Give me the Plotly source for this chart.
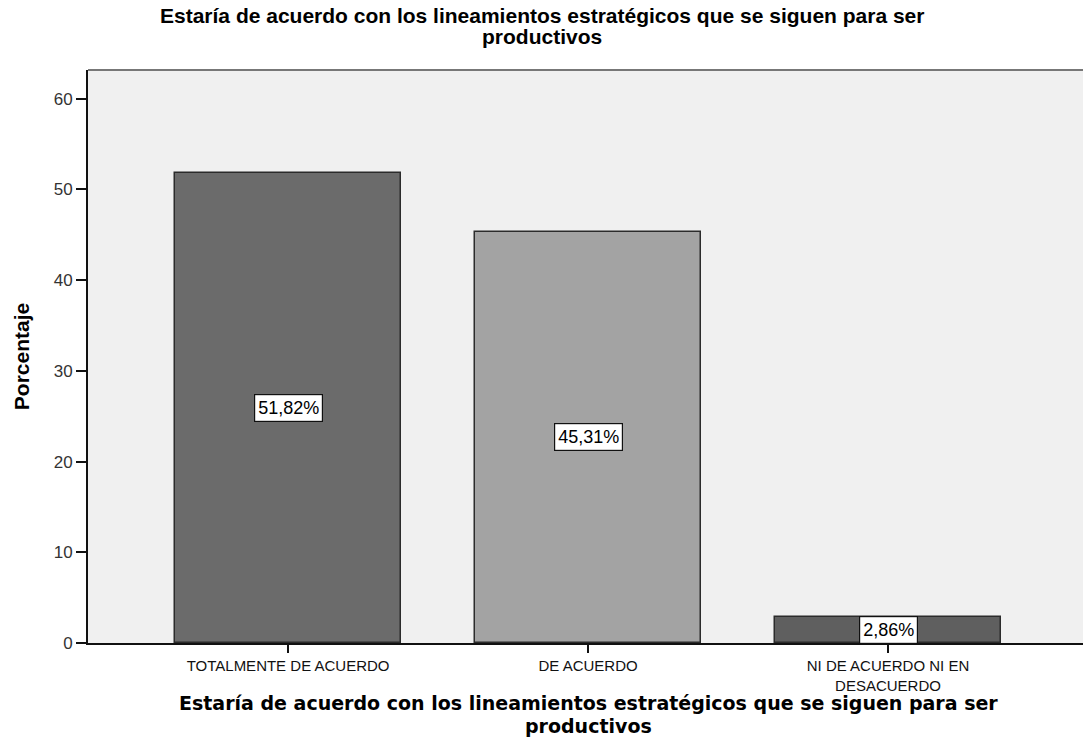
import plotly.graph_objects as go

categories = ["TOTALMENTE DE ACUERDO", "DE ACUERDO", "NI DE ACUERDO NI EN<br>DESACUERDO"]
values = [51.82, 45.31, 2.86]
value_labels = ["51,82%", "45,31%", "2,86%"]
bar_colors = ["#6b6b6b", "#a3a3a3", "#5f5f5f"]
y_ticks = [0, 10, 20, 30, 40, 50, 60]
title_line1 = "Estaría de acuerdo con los lineamientos estratégicos que se siguen para ser"
title_line2 = "productivos"
y_title = "Porcentaje"

x_pos = list(range(len(categories)))

fig = go.Figure()
fig.add_trace(go.Bar(
    x=x_pos, y=values, width=0.753,
    marker=dict(color=bar_colors, line=dict(color="#2b2b2b", width=1.5)),
    hoverinfo="skip",
))

for xi, v, lab in zip(x_pos, values, value_labels):
    fig.add_annotation(
        x=xi, y=v / 2, text=lab, showarrow=False,
        font=dict(family="Liberation Sans, Arial", size=18, color="#000"),
        bgcolor="white", bordercolor="#111", borderwidth=1.2, borderpad=3,
    )

# top title
fig.add_annotation(
    xref="paper", yref="paper", x=0.456, y=1, yshift=55, xanchor="center", yanchor="middle",
    text="<b>" + title_line1 + "</b>", showarrow=False,
    font=dict(family="Liberation Sans, Arial", size=21, color="#000"),
)
fig.add_annotation(
    xref="paper", yref="paper", x=0.456, y=1, yshift=34, xanchor="center", yanchor="middle",
    text="<b>" + title_line2 + "</b>", showarrow=False,
    font=dict(family="Liberation Sans, Arial", size=21, color="#000"),
)
# bottom title
fig.add_annotation(
    xref="paper", yref="paper", x=0.5035, y=0, yshift=-60, xanchor="center", yanchor="middle",
    text="<b>" + title_line1 + "</b>", showarrow=False,
    font=dict(family="DejaVu Sans", size=19, color="#000"),
)
fig.add_annotation(
    xref="paper", yref="paper", x=0.5035, y=0, yshift=-83, xanchor="center", yanchor="middle",
    text="<b>" + title_line2 + "</b>", showarrow=False,
    font=dict(family="DejaVu Sans", size=19, color="#000"),
)

fig.update_layout(
    width=1083, height=753,
    margin=dict(l=88, r=0, t=70, b=110),
    paper_bgcolor="white", plot_bgcolor="#f0f0f0",
    showlegend=False,
    bargap=0,
)
fig.update_xaxes(
    range=[-0.667, 2.65], tickmode="array", tickvals=x_pos, ticktext=categories,
    ticks="outside", ticklen=8, tickcolor="#111", tickwidth=1.5,
    showline=True, linecolor="#111", linewidth=2,
    showgrid=False, zeroline=False,
    tickfont=dict(family="Liberation Sans, Arial", size=15, color="#111"),
    mirror=False,
)
fig.update_yaxes(
    range=[0, 63.16], tickmode="array", tickvals=y_ticks,
    ticks="outside", ticklen=10, tickcolor="#111", tickwidth=1.5,
    showline=True, linecolor="#111", linewidth=2,
    showgrid=False, zeroline=False,
    tickfont=dict(family="Liberation Sans, Arial", size=17, color="#333"),
    title=dict(text="<b>" + y_title + "</b>", font=dict(family="Liberation Sans, Arial", size=21, color="#000"), standoff=18),
)
# top border line of the plot area
fig.add_shape(type="line", xref="paper", yref="paper", x0=0, x1=1, y0=1, y1=1,
              line=dict(color="#777", width=2))

fig.write_html("out.html", config={"displayModeBar": False},
               post_script="document.body.style.margin='0';")
